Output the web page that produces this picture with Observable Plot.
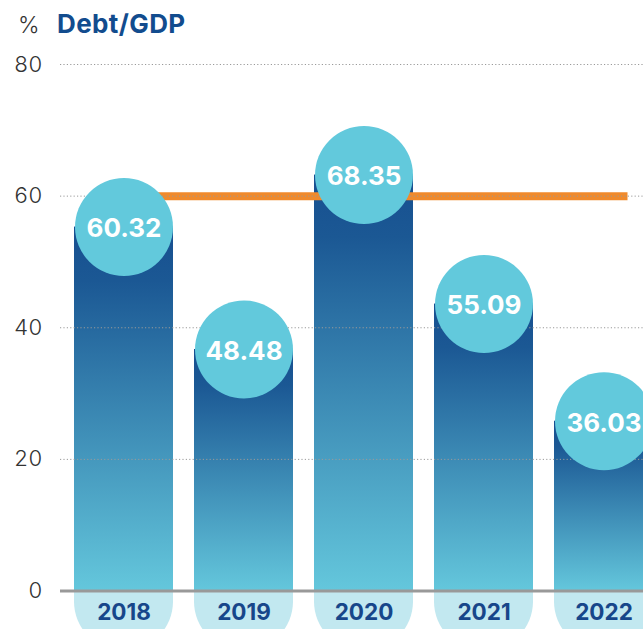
<!DOCTYPE html>
<html>
<head>
<meta charset="utf-8">
<script src="https://cdn.jsdelivr.net/npm/d3@7"></script>
<script src="https://cdn.jsdelivr.net/npm/@observablehq/plot@0.6"></script>
<style>
  html, body { margin: 0; padding: 0; background: #fff; overflow: hidden; }
  #wrap { position: relative; width: 643px; height: 629px; }
  .pct { position: absolute; left: 18px; top: 11px; font: 300 23px Inter, sans-serif; color: #333; }
  .ttl { position: absolute; left: 57px; top: 8px; font: 700 26px Inter, sans-serif; color: #124c8e; letter-spacing: 0.4px; }
</style>
</head>
<body>
<div id="wrap">
  <div class="pct">%</div>
  <div class="ttl">Debt/GDP</div>
</div>
<script>
// Data
const years = [2018, 2019, 2020, 2021, 2022];
const debtLabels = [60.32, 48.48, 68.35, 55.09, 36.03];   // printed values
const drawnHeights = [55.3, 36.7, 63.2, 43.6, 25.8];       // bar tops as drawn in the picture
const yTicks = [0, 20, 40, 60, 80];
const limit = 60;

const data = years.map((year, i) => ({ year, label: debtLabels[i].toFixed(2), top: drawnHeights[i] }));

const half = 0.4125;

const defs = () => {
  const d = d3.create("svg:defs");
  const g = d.append("linearGradient").attr("id", "barGrad").attr("x1", 0).attr("y1", 0).attr("x2", 0).attr("y2", 1);
  g.append("stop").attr("offset", "0%").attr("stop-color", "#174f90");
  g.append("stop").attr("offset", "15%").attr("stop-color", "#1b5894");
  g.append("stop").attr("offset", "100%").attr("stop-color", "#64c7dc");
  return d.node();
};

const chart = Plot.plot({
  width: 643,
  height: 629,
  marginLeft: 60,
  marginRight: 0,
  marginTop: 64,
  marginBottom: 38,
  style: { background: "transparent", overflow: "visible" },
  x: { domain: [2018, 2022], range: [123.5, 603.5], axis: null },
  y: { domain: [0, 80], range: [590.5, 64], ticks: yTicks, label: null, tickSize: 0, tickPadding: 18 },
  marks: [
    defs,
    // pill under the baseline
    Plot.rect(data, { x1: d => d.year - half, x2: d => d.year + half, y1: 0, y2: 0,
      insetTop: -50, insetBottom: -60, rx: 49, fill: "#c2e8f0" }),
    // bars
    Plot.rect(data, { x1: d => d.year - half, x2: d => d.year + half, y1: 0, y2: "top", fill: "url(#barGrad)" }),
    // threshold line
    Plot.ruleY([limit], { x1: years[0], x2: years[years.length - 1] + 0.2, stroke: "#f08a2c", strokeWidth: 8 }),
    // grid
    Plot.ruleY(yTicks.filter(t => t > 0), { stroke: "#9a9a9a", strokeWidth: 1, strokeDasharray: "1.2,2.2" }),
    // baseline
    Plot.ruleY([0], { stroke: "#999", strokeWidth: 3 }),
    // circles
    Plot.dot(data, { x: "year", y: "top", r: 49, fill: "#62c9dc", stroke: null }),
    Plot.text(data, { x: "year", y: "top", text: "label", dy: 2, fill: "white", fontSize: 26, fontWeight: 700, fontFamily: "Inter, sans-serif" }),
    // year labels
    Plot.text(data, { x: "year", y: 0, text: d => String(d.year), dy: 22, fill: "#17468a", fontSize: 22.5, fontWeight: 700, fontFamily: "Inter, sans-serif" }),
    Plot.axisY({ ticks: yTicks, tickSize: 0, tickPadding: 18, fontSize: 22, fontWeight: 300, fontFamily: "Inter, sans-serif", fill: "#333", label: null })
  ]
});
chart.style.position = "absolute";
chart.style.left = "0";
chart.style.top = "0";
document.getElementById("wrap").prepend(chart);
</script>
</body>
</html>
